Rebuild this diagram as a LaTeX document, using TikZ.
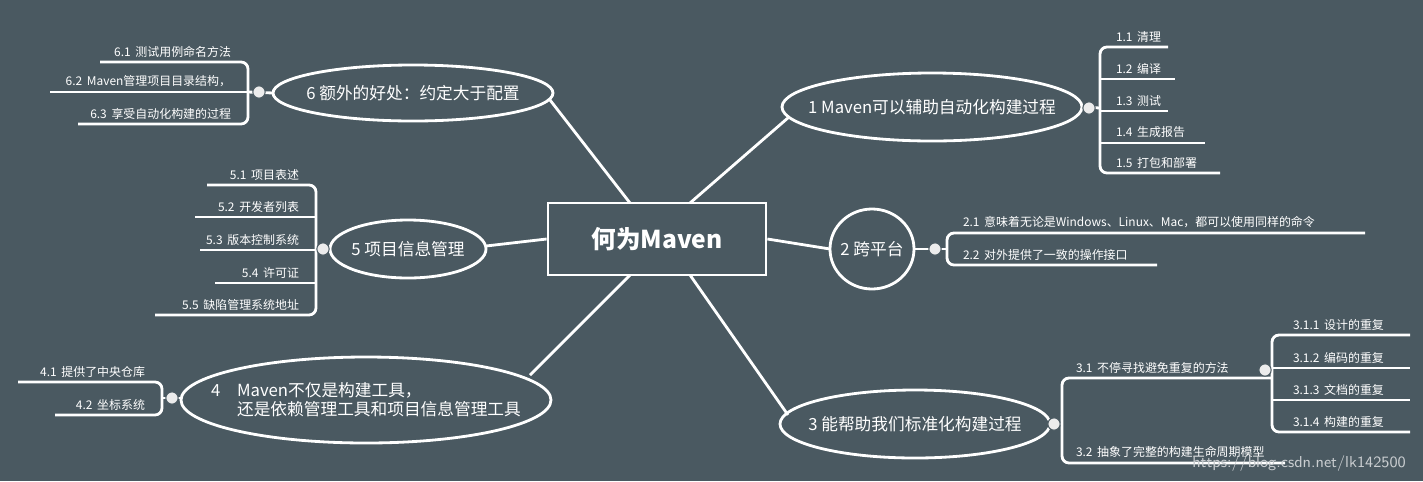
\documentclass[tikz,border=0pt]{standalone}
\usepackage{fontspec}
\setmainfont{Noto Sans CJK SC}
\definecolor{bgslate}{RGB}{74,89,97}
\tikzset{
  branch/.style={text=white, font=\fontsize{9.5}{11}\selectfont, inner sep=0pt},
  wire/.style={draw=white, line width=1.6pt},
  bracket/.style={draw=white, line width=1.6pt, rounded corners=4pt},
  knob/.style={circle, fill=white!85!gray, draw=bgslate, line width=0.6pt, inner sep=0pt, minimum size=7pt},
  item/.style={text=white, font=\fontsize{6.8}{8}\selectfont, inner sep=1.5pt}
}
\begin{document}
\begin{tikzpicture}[x=0.02cm, y=-0.02cm]
  \fill[bgslate] (0,0) rectangle (1423,481);

  % Zentrum
  \node[draw=white, line width=1.6pt, minimum width=4.36cm, minimum height=1.44cm, text=white,
        font=\fontsize{14}{16}\selectfont\bfseries] (maven) at (657,239) {何为Maven};
  \coordinate (c1) at (690,203);
  \coordinate (c3) at (690,275);
  \coordinate (c4) at (630,275);
  \coordinate (c6) at (630,203);

  % Zweige
  \node[branch] (b1) at (932,107) {1 Maven可以辅助自动化构建过程};
  \draw[wire] (b1) ellipse [x radius=150, y radius=34];
  \coordinate (b1w) at (789,117); \coordinate (b1e) at (1082,107);
  \node[branch] (b2) at (872,249) {2 跨平台};
  \draw[wire] (b2) ellipse [x radius=42, y radius=40];
  \coordinate (b2w) at (830,249); \coordinate (b2e) at (914,249);
  \node[branch] (b3) at (915,424) {3 能帮助我们标准化构建过程};
  \draw[wire] (b3) ellipse [x radius=135, y radius=34];
  \coordinate (b3w) at (788,415); \coordinate (b3e) at (1050,424);
  \node[branch, align=left] (b4) at (366,400) {4\quad Maven不仅是构建工具，\\\phantom{4\quad}还是依赖管理工具和项目信息管理工具};
  \draw[wire] (b4) ellipse [x radius=185, y radius=43];
  \coordinate (b4w) at (181,398); \coordinate (b4e) at (530,375);
  \node[branch] (b5) at (408,249) {5 项目信息管理};
  \draw[wire] (b5) ellipse [x radius=78, y radius=29];
  \coordinate (b5w) at (330,249); \coordinate (b5e) at (486,246);
  \node[branch] (b6) at (413,93) {6 额外的好处：约定大于配置};
  \draw[wire] (b6) ellipse [x radius=140, y radius=28];
  \coordinate (b6w) at (273,93); \coordinate (b6e) at (550,100);

  \draw[wire] (c1) -- (b1w);
  \draw[wire] (maven.east) -- (b2w);
  \draw[wire] (c3) -- (b3w);
  \draw[wire] (c4) -- (b4e);
  \draw[wire] (maven.west) -- (b5e);
  \draw[wire] (c6) -- (b6e);

  % 1
  \draw[bracket] (1168,47) -| (1100,173) -- (1220,173);
  \draw[wire] (1100,79) -- (1175,79);
  \draw[wire] (1100,111) -- (1168,111);
  \draw[wire] (1100,143) -- (1205,143);
  \draw[wire] (b1e) -- (1100,108);
  \node[knob] (k1) at (1089,108) {};
  \node[item, anchor=south west] (i11) at (1113,45) {1.1\, 清理};
  \node[item, anchor=south west] (i12) at (1113,77) {1.2\, 编译};
  \node[item, anchor=south west] (i13) at (1113,109) {1.3\, 测试};
  \node[item, anchor=south west] (i14) at (1113,141) {1.4\, 生成报告};
  \node[item, anchor=south west] (i15) at (1113,171) {1.5\, 打包和部署};

  % 2
  \draw[bracket] (1365,233) -| (947,265) -- (1157,265);
  \draw[wire] (b2e) -- (947,249);
  \node[knob] (k2) at (935,249) {};
  \node[item, anchor=south west] (i21) at (960,231) {2.1\, 意味着无论是Windows、Linux、Mac，都可以使用同样的命令};
  \node[item, anchor=south west] (i22) at (960,263) {2.2\, 对外提供了一致的操作接口};

  % 3
  \draw[bracket] (1272,378) -| (1062,463) -- (1285,463);
  \draw[wire] (b3e) -- (1062,424);
  \node[knob] (k3) at (1054,424) {};
  \node[item, anchor=south west] (i31) at (1073,376) {3.1\, 不停寻找避免重复的方法};
  \node[item, anchor=south west] (i32) at (1073,461) {3.2\, 抽象了完整的构建生命周期模型};
  \draw[bracket] (1410,335) -| (1272,432) -- (1410,432);
  \draw[wire] (1272,368) -- (1410,368);
  \draw[wire] (1272,400) -- (1410,400);
  \node[knob] (k31) at (1265,370) {};
  \node[item, anchor=south west] (i311) at (1290,333) {3.1.1\, 设计的重复};
  \node[item, anchor=south west] (i312) at (1290,366) {3.1.2\, 编码的重复};
  \node[item, anchor=south west] (i313) at (1290,398) {3.1.3\, 文档的重复};
  \node[item, anchor=south west] (i314) at (1290,430) {3.1.4\, 构建的重复};

  % 4
  \draw[bracket] (18,382) -| (162,415) -- (55,415);
  \draw[wire] (b4w) -- (162,398);
  \node[knob] (k4) at (172,398) {};
  \node[item, anchor=south east] (i41) at (148,380) {4.1\, 提供了中央仓库};
  \node[item, anchor=south east] (i42) at (148,413) {4.2\, 坐标系统};

  % 5
  \draw[bracket] (207,185) -| (316,315) -- (155,315);
  \draw[wire] (195,217) -- (316,217);
  \draw[wire] (200,250) -- (316,250);
  \draw[wire] (215,283) -- (316,283);
  \draw[wire] (b5w) -- (316,249);
  \node[knob] (k5) at (323,249) {};
  \node[item, anchor=south east] (i51) at (302,183) {5.1\, 项目表述};
  \node[item, anchor=south east] (i52) at (302,215) {5.2\, 开发者列表};
  \node[item, anchor=south east] (i53) at (302,248) {5.3\, 版本控制系统};
  \node[item, anchor=south east] (i54) at (302,281) {5.4\, 许可证};
  \node[item, anchor=south east] (i55) at (302,313) {5.5\, 缺陷管理系统地址};

  % 6
  \draw[bracket] (100,62) -| (248,124) -- (78,124);
  \draw[wire] (50,92) -- (248,92);
  \draw[wire] (b6w) -- (248,92);
  \node[knob] (k6) at (259,92) {};
  \node[item, anchor=south east] (i61) at (234,60) {6.1\, 测试用例命名方法};
  \node[item, anchor=south east] (i62) at (234,90) {6.2\, Maven管理项目目录结构，};
  \node[item, anchor=south east] (i63) at (234,122) {6.3\, 享受自动化构建的过程};

  \node[text=white!70!bgslate, font=\fontsize{9}{10}\selectfont\sffamily, anchor=east] (wm) at (1412,464) {https://blog.csdn.net/lk142500};
\end{tikzpicture}
\end{document}
